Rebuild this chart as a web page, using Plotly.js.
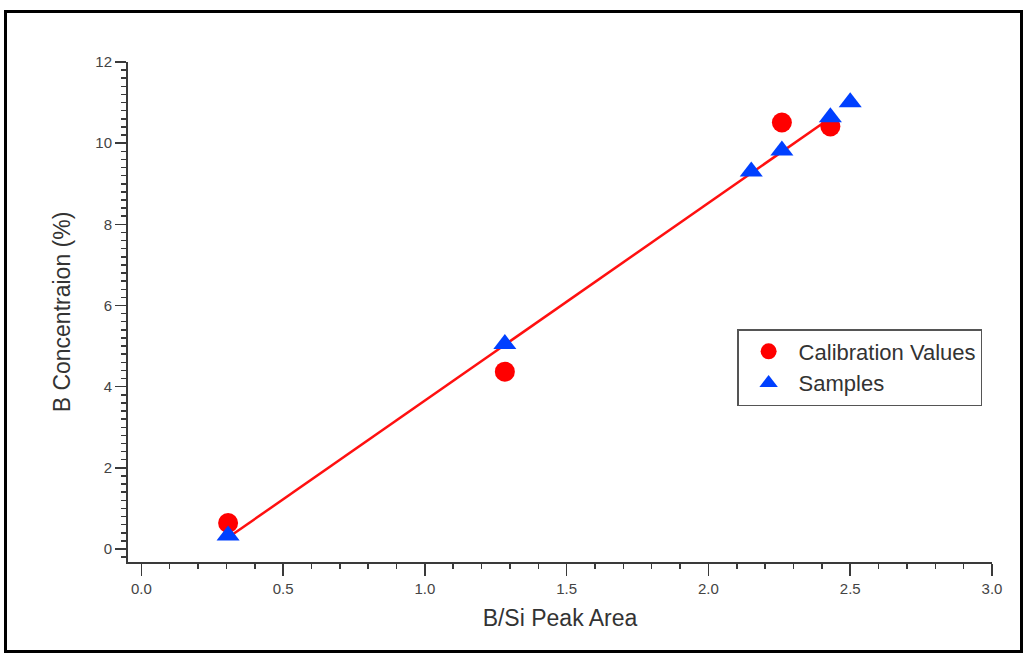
<!DOCTYPE html>
<html>
<head>
<meta charset="utf-8">
<script src="https://cdn.plot.ly/plotly-3.0.1.min.js"></script>
<style>
  html, body { margin: 0; padding: 0; background: #ffffff; }
  #chart { position: absolute; left: 0; top: 0; width: 1028px; height: 657px; }
  #frame { position: absolute; left: 4px; top: 10px; width: 1013px; height: 637px;
           border: 3px solid #000; pointer-events: none; }
</style>
</head>
<body>
<div id="chart"></div>
<div id="frame"></div>
<script>
// Calibration values (red circles)
const calibX = [0.306, 1.282, 2.259, 2.430];
const calibY = [0.64, 4.37, 10.51, 10.41];

// Samples (blue triangles)
const sampleX = [0.306, 1.282, 2.151, 2.259, 2.430, 2.500];
const sampleY = [0.33, 5.05, 9.30, 9.82, 10.64, 11.01];

// Calibration line end points
const fitX = [0.31, 2.43];
const fitY = [0.30, 10.62];

const xTitle = "B/Si Peak Area";
const yTitle = "B Concentraion (%)";

const axisColor = "#3a3a3a";
const font = "Liberation Sans, Arial, sans-serif";

const traces = [
  {
    x: fitX, y: fitY, mode: "lines", type: "scatter",
    line: { color: "#ff1010", width: 2.5 },
    showlegend: false, hoverinfo: "skip"
  },
  {
    x: calibX, y: calibY, mode: "markers", type: "scatter",
    name: "Calibration Values",
    marker: { symbol: "circle", size: 20, color: "#ff0000" }
  },
  {
    x: sampleX, y: sampleY, mode: "markers", type: "scatter",
    name: "Samples",
    marker: { symbol: "triangle-up", size: 20, color: "#0040ff" }
  }
];

const layout = {
  width: 1028, height: 657,
  paper_bgcolor: "#ffffff", plot_bgcolor: "#ffffff",
  margin: { l: 128, r: 36, t: 62, b: 95, pad: 0 },
  font: { family: font, color: "#333333" },
  showlegend: true,
  legend: {
    x: 0.705, y: 0.466, xanchor: "left", yanchor: "top",
    bgcolor: "#ffffff", bordercolor: "#555555", borderwidth: 1.5,
    font: { family: font, size: 22, color: "#333333" },
    itemwidth: 50,
    entrywidth: 262, entrywidthmode: "pixels",
    tracegroupgap: 0
  },
  xaxis: {
    range: [-0.047, 3.0],
    tick0: 0, dtick: 0.5, tickformat: ".1f",
    ticks: "outside", ticklen: 12, tickwidth: 1.5, tickcolor: axisColor,
    minor: { dtick: 0.1, ticks: "outside", ticklen: 5, tickwidth: 1.5, tickcolor: axisColor, showgrid: false },
    showline: true, linecolor: axisColor, linewidth: 2,
    showgrid: false, zeroline: false,
    tickfont: { family: font, size: 15, color: "#444444" },
    title: { text: xTitle, font: { family: font, size: 23, color: "#333333" }, standoff: 14 }
  },
  yaxis: {
    range: [-0.32, 12],
    tick0: 0, dtick: 2,
    ticks: "outside", ticklen: 11, tickwidth: 1.5, tickcolor: axisColor,
    minor: { dtick: 0.2, ticks: "outside", ticklen: 5, tickwidth: 1.5, tickcolor: axisColor, showgrid: false },
    showline: true, linecolor: axisColor, linewidth: 2,
    showgrid: false, zeroline: false,
    tickfont: { family: font, size: 15, color: "#444444" },
    title: { text: yTitle, font: { family: font, size: 23, color: "#333333" }, standoff: 18 }
  }
};

Plotly.newPlot("chart", traces, layout, { displayModeBar: false, staticPlot: true });
</script>
</body>
</html>
